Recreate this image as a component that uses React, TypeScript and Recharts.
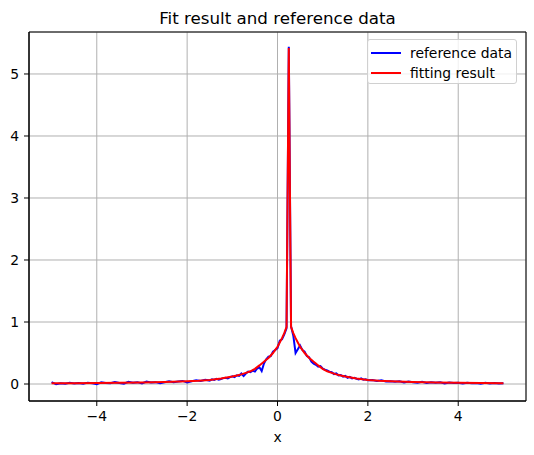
import React from "react";
import {
  LineChart,
  Line,
  XAxis,
  YAxis,
  CartesianGrid,
  Legend,
  ReferenceArea,
} from "recharts";

// x ticks and y ticks as they appear on the axes
const xTicks = [-4, -2, 0, 2, 4];
const yTicks = [0, 1, 2, 3, 4, 5];

// noisy measured curve, [x, y]
const referenceLeft: [number, number][] = [
  [-5.0, 0.03], [-4.9, -0.005], [-4.8, 0.012], [-4.7, 0.005], [-4.6, 0.02],
  [-4.5, 0.008], [-4.4, 0.018], [-4.3, 0.006], [-4.2, 0.022], [-4.1, 0.012],
  [-4.0, -0.004], [-3.9, 0.028], [-3.8, 0.018], [-3.7, 0.012], [-3.6, 0.03],
  [-3.5, 0.015], [-3.4, 0.005], [-3.3, 0.035], [-3.2, 0.02], [-3.1, 0.03],
  [-3.0, 0.01], [-2.9, 0.04], [-2.8, 0.025], [-2.7, 0.03], [-2.6, 0.012],
  [-2.5, 0.028], [-2.4, 0.045], [-2.3, 0.03], [-2.2, 0.04], [-2.1, 0.05],
  [-2.0, 0.025], [-1.9, 0.045], [-1.8, 0.06], [-1.7, 0.048], [-1.6, 0.07],
  [-1.5, 0.055],
];

const referenceCenter: [number, number][] = [
  [-1.45, 0.075], [-1.4, 0.065], [-1.35, 0.085], [-1.3, 0.07], [-1.25, 0.08],
  [-1.2, 0.095], [-1.15, 0.1], [-1.1, 0.09], [-1.05, 0.11], [-1.0, 0.125],
  [-0.95, 0.11], [-0.9, 0.14], [-0.85, 0.13], [-0.8, 0.17], [-0.75, 0.13],
  [-0.7, 0.17], [-0.65, 0.2], [-0.6, 0.19], [-0.55, 0.215], [-0.5, 0.2],
  [-0.45, 0.25], [-0.4, 0.27], [-0.35, 0.21], [-0.3, 0.33], [-0.25, 0.4],
  [-0.2, 0.44], [-0.15, 0.45], [-0.1, 0.52], [-0.05, 0.55], [0.0, 0.58],
  [0.05, 0.7], [0.1, 0.72], [0.15, 0.8], [0.2, 0.9], [0.25, 5.44],
  [0.3, 0.93], [0.35, 0.78], [0.4, 0.5], [0.45, 0.56], [0.5, 0.62],
  [0.55, 0.55], [0.6, 0.52], [0.65, 0.45], [0.7, 0.43], [0.75, 0.36],
  [0.8, 0.33], [0.85, 0.31], [0.9, 0.28], [0.95, 0.29], [1.0, 0.25],
  [1.05, 0.23], [1.1, 0.22], [1.15, 0.2], [1.2, 0.19], [1.25, 0.16],
  [1.3, 0.17], [1.35, 0.14], [1.4, 0.145], [1.45, 0.12], [1.5, 0.13],
  [1.55, 0.1], [1.6, 0.115], [1.65, 0.09], [1.7, 0.1], [1.75, 0.085],
  [1.8, 0.075], [1.85, 0.09], [1.9, 0.07], [1.95, 0.075], [2.0, 0.06],
];

const referenceRight: [number, number][] = [
  [2.1, 0.065], [2.2, 0.05], [2.3, 0.06], [2.4, 0.04], [2.5, 0.045],
  [2.6, 0.035], [2.7, 0.045], [2.8, 0.025], [2.9, 0.04], [3.0, 0.03],
  [3.1, 0.02], [3.2, 0.035], [3.3, 0.015], [3.4, 0.03], [3.5, 0.02],
  [3.6, 0.028], [3.7, 0.01], [3.8, 0.025], [3.9, 0.015], [4.0, 0.02],
  [4.1, 0.008], [4.2, 0.022], [4.3, 0.012], [4.4, 0.018], [4.5, 0.005],
  [4.6, 0.02], [4.7, 0.01], [4.8, 0.015], [4.9, 0.008], [5.0, 0.012],
];

// fitted curve, [x, y]
const fitPoints: [number, number][] = [
  [-5.0, 0.011], [-4.5, 0.013], [-4.0, 0.015], [-3.5, 0.019], [-3.0, 0.023],
  [-2.5, 0.031], [-2.0, 0.043], [-1.75, 0.052], [-1.5, 0.066], [-1.25, 0.088],
  [-1.0, 0.12], [-0.9, 0.136], [-0.8, 0.155], [-0.7, 0.18], [-0.6, 0.205],
  [-0.5, 0.245], [-0.4, 0.3], [-0.3, 0.36], [-0.25, 0.39], [-0.2, 0.42],
  [-0.15, 0.46], [-0.1, 0.5], [-0.05, 0.55], [0.0, 0.6], [0.05, 0.67],
  [0.1, 0.74], [0.15, 0.82], [0.2, 0.92], [0.25, 5.42], [0.3, 0.92],
  [0.35, 0.82], [0.4, 0.74], [0.45, 0.67], [0.5, 0.6], [0.55, 0.55],
  [0.6, 0.5], [0.65, 0.46], [0.7, 0.42], [0.75, 0.39], [0.8, 0.36],
  [0.85, 0.33], [0.9, 0.3], [1.0, 0.245], [1.1, 0.205], [1.2, 0.18],
  [1.3, 0.155], [1.4, 0.136], [1.5, 0.12], [1.75, 0.088], [2.0, 0.066],
  [2.25, 0.052], [2.5, 0.043], [3.0, 0.031], [3.5, 0.023], [4.0, 0.019],
  [4.5, 0.015], [5.0, 0.013],
];

const toRows = (pts: [number, number][]) => pts.map(([x, y]) => ({ x, y }));
const referenceData = toRows([...referenceLeft, ...referenceCenter, ...referenceRight]);
const fitData = toRows(fitPoints);

const X_DOMAIN: [number, number] = [-5.5, 5.5];
const Y_DOMAIN: [number, number] = [-0.274, 5.677];
const FONT = "'DejaVu Sans', sans-serif";

const series = [
  { name: "reference data", color: "#0000ff" },
  { name: "fitting result", color: "#ff0000" },
];

const minus = (v: number) => String(v).replace("-", "\u2212");

function LegendBox() {
  return (
    <div
      style={{
        width: 150,
        height: 45,
        boxSizing: "border-box",
        border: "1px solid #d0d0d0",
        borderRadius: 3,
        background: "rgba(255,255,255,0.8)",
        fontFamily: FONT,
        fontSize: 13.9,
        color: "#000",
        paddingTop: 3,
      }}
    >
      {series.map((s) => (
        <div key={s.name} style={{ display: "flex", alignItems: "center", height: 20 }}>
          <span
            style={{
              display: "inline-block",
              width: 30,
              height: 2,
              background: s.color,
              marginLeft: 3,
              marginRight: 9,
            }}
          />
          <span>{s.name}</span>
        </div>
      ))}
    </div>
  );
}

export default function App() {
  return (
    <div style={{ position: "absolute", left: 0, top: 0, width: 534, height: 455, background: "#fff" }}>
      <div
        style={{
          position: "absolute",
          top: 10,
          left: 29,
          width: 497,
          textAlign: "center",
          fontFamily: FONT,
          fontSize: 16.7,
          lineHeight: "17px",
          color: "#000",
        }}
      >
        Fit result and reference data
      </div>
      <LineChart
        width={534}
        height={455}
        margin={{ top: 32, right: 8, bottom: 24, left: 0 }}
      >
        <CartesianGrid stroke="#b0b0b0" strokeWidth={1} />
        <XAxis
          type="number"
          dataKey="x"
          domain={X_DOMAIN}
          ticks={xTicks}
          allowDataOverflow
          height={30}
          tickSize={5}
          tickMargin={5}
          tickFormatter={minus}
          tick={{ fill: "#000", fontSize: 13.9, fontFamily: FONT }}
          tickLine={{ stroke: "#000" }}
          axisLine={{ stroke: "#000" }}
        />
        <YAxis
          type="number"
          domain={Y_DOMAIN}
          ticks={yTicks}
          allowDataOverflow
          width={29}
          tickSize={5}
          tickMargin={5}
          tick={{ fill: "#000", fontSize: 13.9, fontFamily: FONT }}
          tickLine={{ stroke: "#000" }}
          axisLine={{ stroke: "#000" }}
        />
        <ReferenceArea
          x1={X_DOMAIN[0]}
          x2={X_DOMAIN[1]}
          y1={Y_DOMAIN[0]}
          y2={Y_DOMAIN[1]}
          fill="none"
          stroke="#000"
          strokeWidth={1}
          ifOverflow="visible"
        />
        <Legend
          layout="vertical"
          align="center"
          verticalAlign="middle"
          content={() => <LegendBox />}
          wrapperStyle={{ position: "absolute", left: 367, top: 39, width: 150, height: 45 }}
        />
        <Line
          data={referenceData}
          dataKey="y"
          name={series[0].name}
          type="linear"
          stroke={series[0].color}
          strokeWidth={2}
          dot={false}
          isAnimationActive={false}
        />
        <Line
          data={fitData}
          dataKey="y"
          name={series[1].name}
          type="linear"
          stroke={series[1].color}
          strokeWidth={2}
          dot={false}
          isAnimationActive={false}
        />
      </LineChart>
      <div
        style={{
          position: "absolute",
          top: 430,
          left: 29,
          width: 497,
          textAlign: "center",
          fontFamily: FONT,
          fontSize: 13.9,
          lineHeight: "14px",
          color: "#000",
        }}
      >
        x
      </div>
    </div>
  );
}
